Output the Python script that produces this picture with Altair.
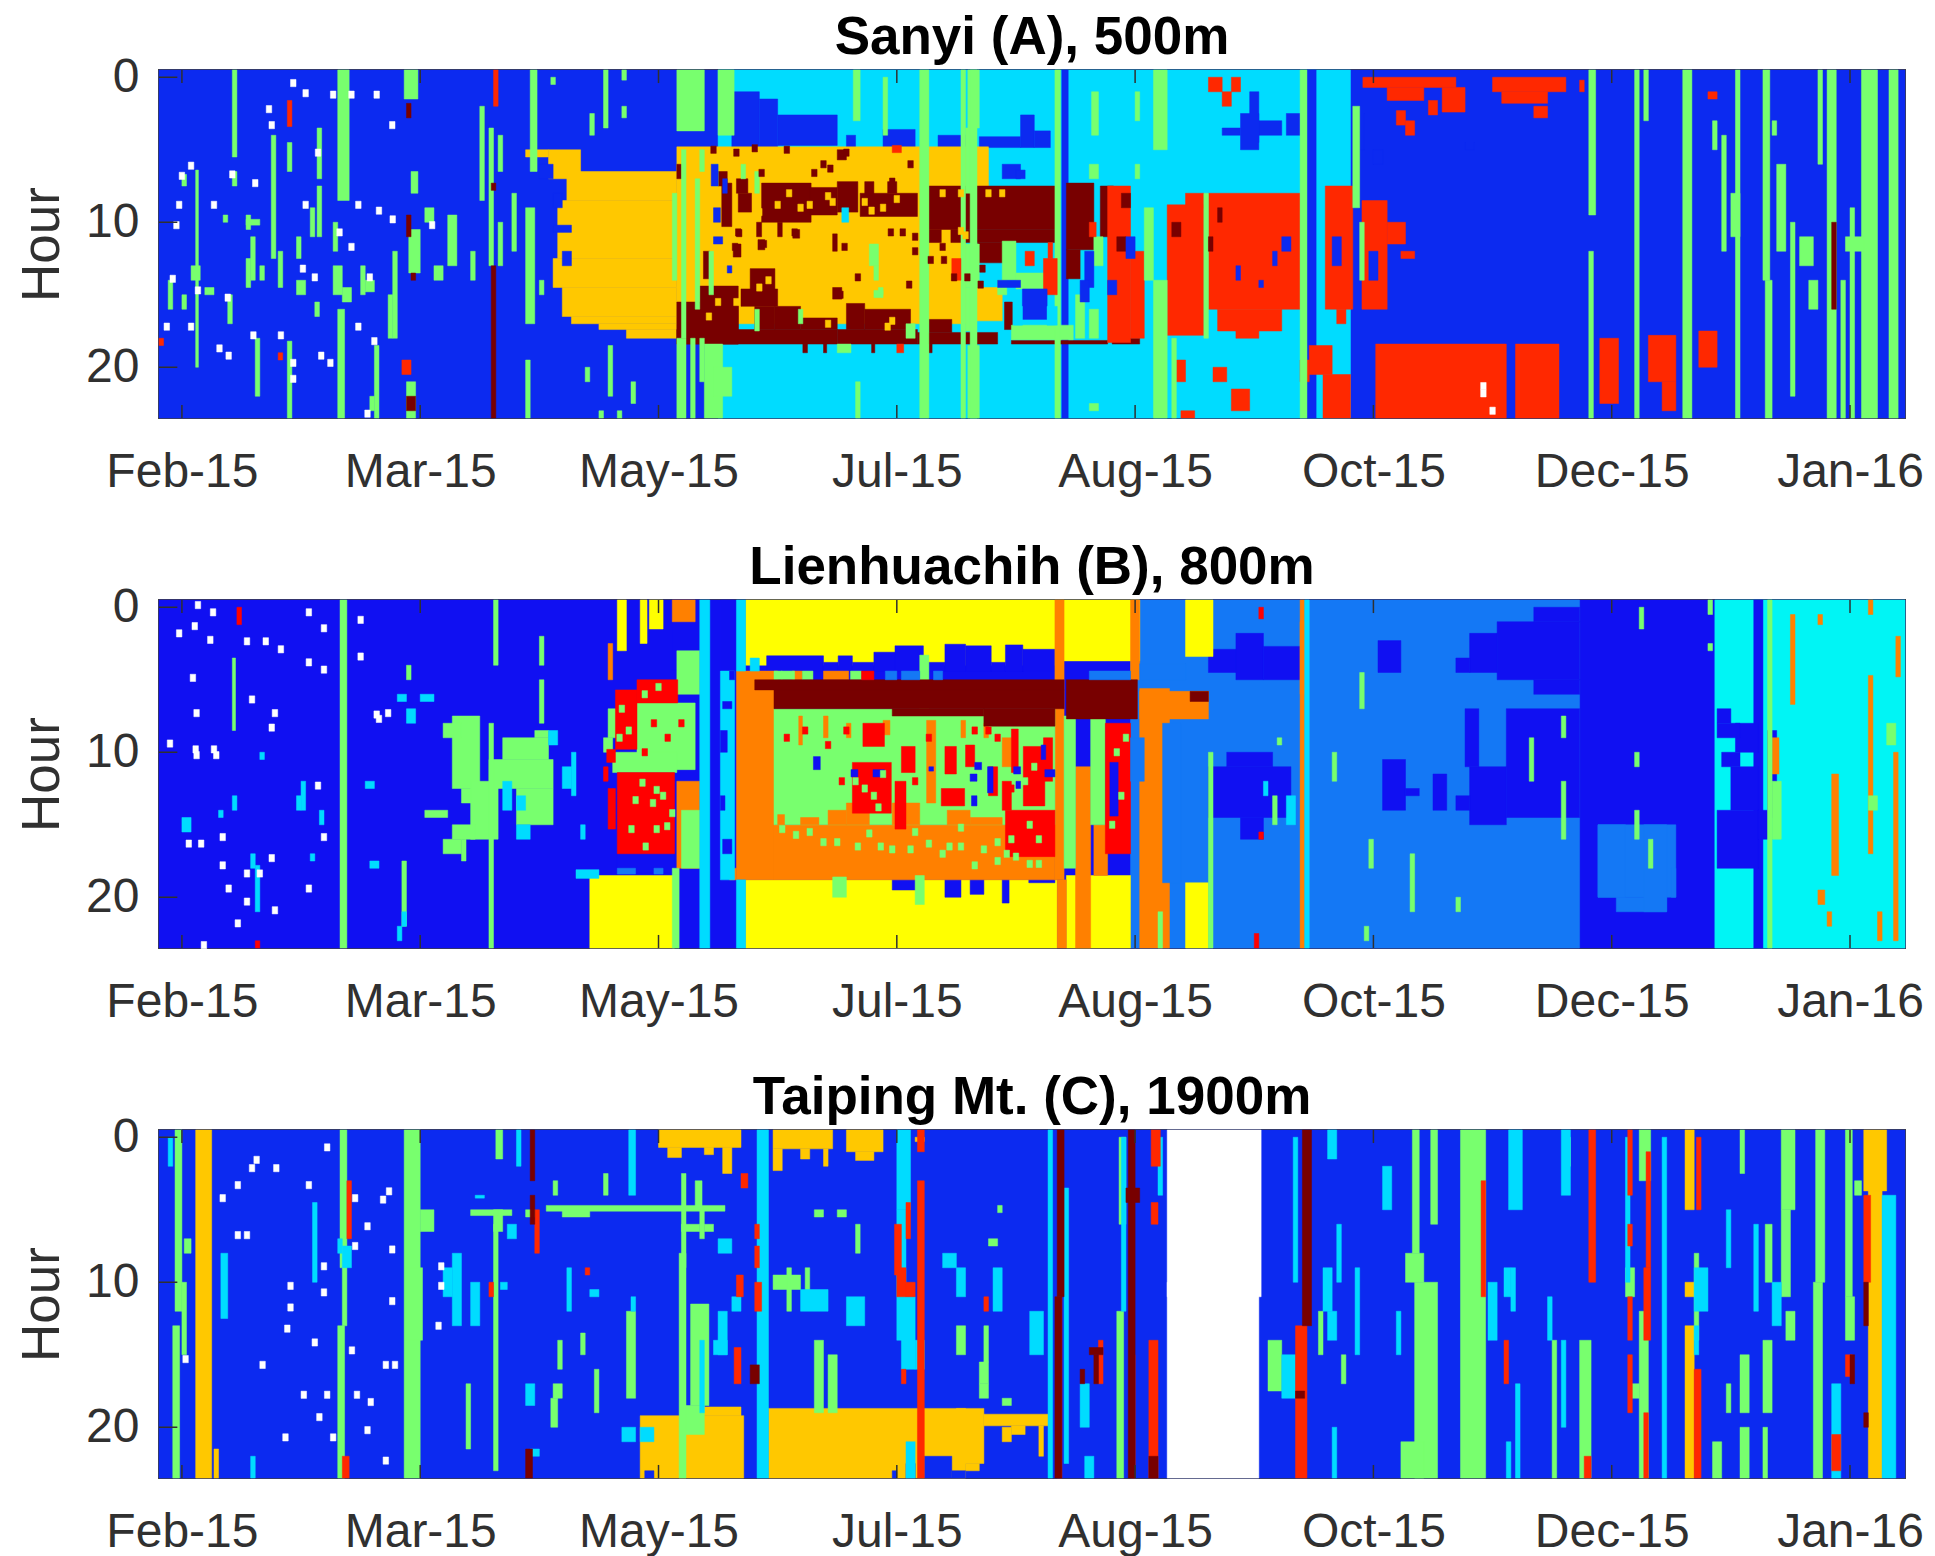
import altair as alt
import pandas as pd

TICK_DAYS = [5, 57, 109, 161, 213, 265, 317, 369]
TICK_LABELS = ["Feb-15", "Mar-15", "May-15", "Jul-15", "Aug-15", "Oct-15", "Dec-15", "Jan-16"]
HOUR_TICKS = [0, 10, 20]
DAYS = 381
CATS = ["blue", "indigo", "azure", "cyan", "aqua", "green", "yellow", "gold", "orange", "red", "scarlet", "maroon", "white"]
COLORS = ["#0c2af0", "#1010f2", "#1478f5", "#00dcff", "#00f5f5", "#78ff6e", "#ffff00", "#ffc800", "#ff8000", "#ff2800", "#ff0000", "#780000", "#ffffff"]

# ---------- Panel A: rectangles (day start, day end, hour start, hour end)
A_base = [(0, 381, -.5, 23.5)]
A_cyan = [(122, 260, -.5, 23.5)]
A_blue = [(125, 131, 1, 5), (131, 135, 1.5, 5), (135, 148, 2.6, 4.7), (150, 152, 4, 5), (158, 165, 3.6, 5),
          (170, 176, 4, 5), (179, 188, 4.1, 4.85), (188, 191, 2.6, 4.85), (191, 194.5, 3.7, 4.85),
          (197, 198.4, -.5, 23.5), (250.5, 252.5, -.5, 23.5), (232, 236, 3.5, 4), (238, 240, 1, 4.5), (240, 245, 3, 4),
          (261, 263, 2.5, 5), (246, 249, 2.5, 4), (236, 240, 2.5, 5)]
A_gold = [(80, 85, 5, 5.5), (85, 92, 5, 7), (89, 113, 6.5, 8.5), (87, 113, 8.5, 12.5), (86, 113, 12.5, 14.5),
          (88, 113, 14.5, 16.5), (90, 113, 16.5, 17), (96, 113, 17, 17.4), (102, 113, 17.4, 18),
          (113, 181, 4.8, 7.5), (113, 176, 7.5, 17), (178, 184, 14.5, 16.8)]
A_maroon = [(131.5, 142.3, 7.3, 10), (142, 148, 7.6, 9.5), (148, 152.5, 7.2, 9.3), (153, 165.5, 8, 9.6), (154, 156, 7.2, 8.1), (159, 161, 7.2, 8),
            (168, 195.6, 7.5, 10.5), (168, 170.7, 10.5, 11.4), (172.8, 195.6, 10.5, 11.4), (178.6, 186, 11.4, 12.8), (198, 204, 7.3, 11.9), (198, 201, 11.9, 13.9),
            (205.4, 208.3, 7.5, 11), (122.8, 125, 7.3, 10.3), (126.4, 129.3, 8, 9.3), (126, 127.2, 10.5, 11), (130.4, 131.5, 10, 11), (135, 136, 10, 11), (138.3, 139.8, 10.5, 11.1),
            (125.3, 127, 11.5, 12.4), (130.7, 132.2, 11.2, 11.9), (118.8, 120.2, 12, 13.9), (113, 148, 17.4, 18.4), (113, 126.4, 15.5, 18.4), (118, 126.4, 14.4, 18.4),
            (129, 134.4, 13.2, 15.3), (127, 135, 14.6, 15.8), (130, 134.4, 15.8, 17.4), (134.4, 140, 15.8, 17.4), (140, 148, 16.6, 17.4), (147, 149, 14.5, 15.3), (148, 165.5, 17.4, 18.4),
            (150, 154, 15.6, 17.4), (154, 164, 16, 17.4), (165.5, 183, 17.6, 18.4), (168, 173, 16.7, 17.6), (186, 207, 18.15, 18.4), (208, 214, 18, 18.4), (184.5, 186.2, 15.5, 17.4),
            (140.5, 141.5, 18.4, 19), (145, 145.7, 18.4, 19), (155.5, 156.2, 18.4, 19), (168, 168.7, 18.4, 19), (113, 114, 6, 7), (122, 124, 6.5, 7.5), (126, 128.5, 7, 8),
            (148, 150, 5, 5.7), (147, 148, 10.8, 12)]
A_maroonspeck = [(126.4, 10.7), (138.7, 10.7), (149.6, 11.7), (152.5, 13.8), (163.7, 14.3), (159.7, 10.7), (162.3, 10.7), (132, 11.5), (125.7, 11.7), (148.7, 15),
                 (173.5, 13.8), (176.4, 13.8), (179.7, 13.2), (179.3, 14.3), (171, 11.7), (168.4, 12.6), (171.3, 12.6), (160, 7.2), (131.5, 6.6), (145, 6), (146.5, 6.3), (143, 6.6),
                 (121, 5), (126, 5.2), (130, 4.9), (137, 5), (150, 5.2), (164, 6), (165, 12), (165, 11)]
A_goldspeck = [(131, 9.3), (137.5, 8), (140, 9), (146, 8.2), (147, 8.6), (154, 8.6), (155.5, 9.2), (158, 9), (161, 8.4), (171, 8), (175, 8), (181, 8), (184, 8), (175, 10.6), (176, 10.9), (122, 15.5),
               (120, 16.5), (126, 15.5), (131, 14.5), (133, 14), (146, 17), (160, 16.8), (159, 17.2), (142, 8.8), (135, 8.8)]
A_red = [(229, 249, 8, 16), (231, 245, 16, 17.5), (235, 240, 17.5, 18), (220, 228, 8.8, 17.8), (224, 228, 8, 9),
         (207, 212, 7.5, 18.3), (212, 215, 12, 18), (254.5, 260.5, 7.5, 16), (257, 259, 16, 17), (262.5, 268, 8.5, 16), (268, 272, 10, 11.5),
         (271, 274, 12, 12.5), (251, 256, 18.5, 20.5), (254, 260, 20.5, 23.5), (265.5, 294, 18.4, 23.5), (296, 305.5, 18.4, 23.5),
         (314.4, 318.5, 18, 22.5), (325, 331, 17.8, 21), (336, 340, 17.5, 20), (328, 331, 21, 23), (262.7, 283, 0, .7),
         (268, 276, .7, 1.6), (280, 285, .7, 2.4), (291, 307, 0, 1), (293, 303, 1, 1.8), (229, 232, 0, 1), (234, 236, 0, 1),
         (232, 234, 1, 2), (222, 224, 19.5, 21), (230, 233, 20, 21), (234, 238, 21.5, 23), (223, 226, 23, 23.5), (249, 251, 19.5, 21)]
A_redspeck = [(300, 303, 2, 2.8), (270, 272, 2.3, 3.3), (277, 279, 1.6, 2.6), (272, 274, 3, 4), (310, 311, .2, 1), (338, 340, 1, 1.5),
              (28, 29, 1.6, 3.4), (73, 74, -.5, 2), (0, 1, 18, 18.5), (26, 27, 19, 19.5), (53, 55, 19.5, 20.5), (160, 162, 4.7, 5.2), (173, 175, 12.5, 14),
              (161, 162.5, 18.4, 19), (189, 191, 12, 13), (193, 196, 12.5, 15), (194, 195, 11.4, 12.5), (203, 204.5, 10, 11)]
A_maroonline = [(72.5, 73.5, 13, 23.5), (54, 55, 1.8, 2.8), (54, 55, 9.5, 11), (55, 56, 13.5, 14), (54, 56, 22, 23), (72.5, 73.5, 7.3, 7.8), (365, 366, 10, 16),
                (231, 232, 9, 10), (229, 230, 11, 12), (221, 223, 10, 11), (210, 212, 8, 9), (209, 211, 11, 12)]
A_holeblue = [(188.4, 193.8, 14.6, 16.7), (285, 287, 4.5, 5), (235, 236, 13, 14), (243, 244, 12, 13), (240, 241, 14, 14.5),
              (256, 258, 11, 13), (264, 266, 12, 14), (245, 247, 11, 12), (265, 267, 5, 6), (86, 90, 10.2, 10.7), (88, 90, 12, 13), (83, 86, 6, 7),
              (86, 88, 8, 9), (123, 124, 7, 8), (124, 125, 13, 13.5), (184, 188, 6, 7), (187, 189, 6.4, 7), (202, 204, 12, 14.5), (201, 203, 14, 15.5), (207, 209, 14, 15),
              (183, 188, 14, 14.5), (211, 213, 11, 12.5), (120.5, 122, 6, 7.5), (121, 122.5, 9, 10), (121, 123, 11, 11.5)]
A_cyanhole = [(186.5, 188.4, 15.8, 17.1), (193.8, 196, 15.8, 17.1), (149, 150.5, 9, 10)]
A_green = [(8, 8.6, 6.4, 20), (16, 17, -.5, 5.5), (16, 17, 6.5, 7.5), (24.5, 25.5, 4, 12.5), (28, 29, 18.2, 23.5), (28, 29, 4.5, 6.5),
           (34.5, 35.5, 3.5, 7), (34.5, 35.5, 7.5, 11), (39, 41.5, -.5, 8.5), (39, 40.5, 16, 23.5), (47, 48, 18.5, 23.5), (53.5, 56.5, -.5, 1.5),
           (55, 56.5, 6.5, 8), (54.5, 57, 10.5, 13.5), (54, 56, 21, 23.5), (63, 65, 9.5, 13), (70, 71, 2, 8.5), (72, 73, 3.5, 13), (74, 75, 4, 6.5),
           (77, 78, 8, 12), (80, 82, 9, 17), (80, 81, 19.5, 23.5), (81, 82.5, -.5, 6.5), (85.5, 86.5, 0, .5), (94, 95, 2.5, 4), (97, 98, -.5, 3.5),
           (98, 99, 18.5, 22), (101, 102, -.5, .2), (101, 102, 2, 2.8), (103, 104, 21, 22.5), (14, 15, 9.5, 10), (19, 20, 9.5, 10.5), (19, 22, 9.8, 10.2),
           (20, 21, 11, 14), (7, 9, 13, 14), (10, 12, 14.5, 15), (38, 40, 13, 15), (40, 42, 14.5, 15.5), (45, 47, 14, 14.8), (44, 45, 13, 15),
           (19, 20, 12.5, 14.5), (22, 23, 13, 14), (26, 27, 12, 14.5), (30, 31, 11, 12.5), (5, 6, 6.7, 7.5), (2, 3, 14, 16), (5, 6, 15, 16),
           (15, 16, 15, 17), (21, 22, 18, 22), (33, 34, 9, 11), (51, 52, 12, 18), (50, 51, 15, 18), (46, 47, 22, 23), (34, 35, 15.5, 16.5),
           (58, 60, 9, 10), (68, 69, 12, 14), (74, 75, 10, 13), (83, 84, 14, 15), (93, 94, 20, 21), (96, 97, 23, 23.5), (100, 101, 23, 23.5),
           (60, 62, 13, 14), (38, 39, 10, 12), (30, 32, 14, 15),
           (113, 119, -.5, 3.7), (122, 125.5, -.5, 4), (113, 115, 18, 23.5), (116, 117, 18, 23.5), (118, 119, 18, 21), (119, 123, 18.4, 23.5),
           (121, 125, 20, 22), (114, 115, 5, 18), (117, 118, 7, 16), (118, 119, 5, 6.5), (120, 121, 12, 15), (121, 122, 6, 7.5), (112, 113, 8, 14),
           (151.5, 153, -.5, 3), (152, 153, 21, 23.5), (158, 159, 0, 4), (166, 168, -.5, 23.5), (155, 157, 11.5, 13), (156, 157, 13, 14), (157, 158, 14.5, 15), (156, 158, 14.7, 15.2),
           (148, 151, 18.4, 19), (139.5, 140.5, 16, 17), (130, 131, 16, 17.5), (163, 165, 17, 18), (127, 128, 6, 7), (130, 131, 6.5, 8),
           (176.5, 179, -.5, 3.5), (176, 178, 3.5, 8), (176.5, 179, 18.5, 23.5), (176, 179, 11.5, 14.5), (176, 178, 14.5, 17.5), (184, 187, 11.3, 14), (187, 195, 13.5, 14.6),
           (183, 185, 14, 15), (186, 199.5, 17.1, 18.1), (177, 178.5, -.5, 23.5), (175, 176, -.5, 23.5), (195.5, 196.7, -.5, 23.5),
           (203.5, 205, 1, 4), (203, 205, 6, 7), (204, 206, 11, 13), (213, 214, 1, 3), (217, 220, -.5, 5), (217, 220, 14, 23.5), (221, 222, 18, 23.5), (228, 229, 8, 18),
           (249, 250.5, -.5, 23.5), (260.5, 262, 2, 9), (215, 217, 9, 14), (262, 263, 10, 14), (203, 205, 22.5, 23), (213, 214, 6, 7), (200, 202, 15, 18), (203, 205, 16, 18),
           (312, 313.5, -.5, 9.5), (312, 313, 12, 23.5), (322, 323, -.5, 23.5), (324, 325, -.5, 3), (332.5, 334.5, -.5, 23.5), (344, 345, -.5, 23.5),
           (350, 351.5, -.5, 14), (350.5, 352, 14, 23.5), (352, 353, 3, 4), (356, 357, 10, 22), (362, 363, -.5, 6), (364, 366, -.5, 23.5), (369, 370, 9, 23.5),
           (371.5, 375, -.5, 23.5), (377.5, 379.5, -.5, 23.5), (367, 368, 14, 23.5), (339, 340, 3, 5), (341, 342, 4, 12), (343, 345, 8, 11), (353, 355, 6, 12),
           (358, 361, 11, 13), (360, 362, 14, 16), (368, 372, 11, 12)]
A_white = [(29.3, .4), (32, 1.1), (38, 1.2), (42, 1.2), (47.5, 1.2), (24, 2.2), (24.6, 3.3), (50.9, 3.3), (34.7, 5.2), (7, 6.1), (5, 6.8), (16, 6.7), (21, 7.3),
           (12, 8.8), (4.4, 8.8), (43.5, 8.8), (32, 8.8), (48, 9.2), (51, 9.8), (59.6, 10.2), (3.8, 10.2), (39.4, 10.7), (42, 11.7), (31.4, 13.2), (34, 13.8), (46, 13.8),
           (3, 13.9), (8.5, 14.7), (15, 15.2), (1.7, 17.2), (7, 17.2), (43.5, 17.2), (20.6, 17.8), (26.6, 17.8), (47, 18.2), (13.2, 18.7), (15.2, 19.2), (35.4, 19.2),
           (37.4, 19.7), (29.3, 19.7), (29.3, 20.8), (45.5, 23.2), (289, 21.3), (289, 21.8), (291, 23)]

# ---------- Panel B
B_base = [(0, 381, -.5, 23.5)]
B_azure = [(212, 310, -.5, 23.5), (314, 331, 15, 20), (318, 329, 20, 21)]
B_aqua = [(339.5, 381, -.5, 23.5)]
B_indigo = [(229, 235, 2.9, 4.5), (235, 241, 1.8, 5), (241, 250, 2.7, 5), (229, 247, 11, 14.5), (233, 243, 10, 11), (236, 241, 14.5, 16), (292, 310, 1, 5),
            (300, 310, 0, 1), (286, 292, 1.8, 4.5), (283, 286, 3.5, 4.5), (266, 271, 2.3, 4.5), (294, 310, 7, 14.5), (300, 310, 5, 6), (286, 294, 11, 15),
            (283, 286, 13, 14), (267, 272, 10.5, 14), (285, 288, 7, 11), (272, 275, 12.5, 13), (278, 281, 11.5, 14),
            (348, 350, -.5, 23.5), (340, 343, 7, 8), (344, 349, 8, 10), (341, 345, 10, 11), (343, 349, 11, 14), (340, 349, 14, 18), (340, 345, 8, 9),
            (351, 353, 8.5, 14.5), (349, 352, 14, 16)]
B_azureholes = [(314, 320, 15, 20), (324, 329, 15, 21), (330, 331, 18, 20)]
B_yellow = [(128, 196, -.5, 4), (100, 102, -.5, 3), (105, 106.5, -.5, 2.5), (107, 110, -.5, 1.5), (94, 112.5, 18.5, 23.5), (128, 196, 18.8, 23.5),
            (196, 214, -.5, 3.7), (224, 230, -.5, 3.4), (224, 229, 19, 23.5), (198, 212, 18.5, 23.5)]
B_blue_top = [(132.6, 145, 3.35, 4.4), (145, 148.2, 3.8, 4.4), (148.2, 151.3, 3.35, 4.4), (151.3, 156, 3.8, 4.4), (156, 160.6, 3.1, 4.4), (160.6, 166.8, 2.66, 4.4), (166.8, 171.5, 3.8, 4.4),
              (171.5, 176, 2.55, 4.4), (176, 181.6, 2.66, 4.4), (181.6, 184.7, 3.8, 4.4), (184.7, 188.5, 2.6, 4.4), (188.5, 195.5, 2.9, 4.4),
              (160, 165.5, 18.6, 19.5), (171.5, 175, 18.6, 20), (177, 180, 18.6, 19.8), (184, 185.5, 18.6, 20.4), (189.8, 195.5, 18.6, 19),
              (100, 112.5, 17, 18.3), (112, 118, -.5, 4.3), (122.5, 125.6, -.5, 4.4)]
B_orange = [(126, 134.2, 4.4, 18.8), (134.2, 195.5, 15, 18.8), (195.5, 197.5, -.5, 18.8), (196, 198, 18.8, 23.5), (200, 203.3, 11, 23.5), (204, 207, 15, 18.5), (214, 220.5, 5.6, 23.5), (214, 229, 5.8, 7.7),
            (218, 222, 12, 18), (249, 250, -.5, 23.5), (249, 250.5, 1, 6), (212, 214, -.5, 5), (98, 99, 2.5, 5), (112, 117, -.5, 1),
            (113, 118, 12, 18), (218, 222, 10, 11), (134.2, 135, 4.4, 5), (138.2, 140.4, 4.4, 5), (145, 150.5, 4.4, 5), (124.5, 126, 18, 18.8),
            (356, 357, .5, 6.7), (362, 363, .5, 1.2), (365, 366.5, 11.5, 18.5), (362, 363.5, 19.5, 20.5), (364, 365, 21, 22), (373, 374, -.5, .5), (373, 374, 4.7, 17),
            (379, 380, 2, 4.8), (378.5, 379.5, 10, 23), (352, 353.5, 9, 11.5), (375, 376, 21, 23)]
B_green = [(134.2, 195.5, 7, 15), (197.5, 200, 7.5, 18), (203.3, 206.5, 7.5, 15), (104.3, 117, 6.6, 11.2), (99, 113, 10, 11.4), (113, 118, 3, 6),
           (134.2, 136, 4.4, 5), (135.8, 138.7, 4.4, 5), (140.4, 142.7, 4.4, 5), (150.9, 153.3, 4.4, 5), (166, 168, 3.3, 7), (165, 167, 18.5, 20.5),
           (147, 150, 18.6, 20), (98, 100, 7, 9), (97, 99, 9, 10), (114, 118, 14, 18), (112, 113.5, 18, 23.5),
           (64, 70, 7.5, 12.5), (66, 71, 12.5, 13.5), (68, 74, 12, 16), (62, 66, 8, 9), (75, 85, 9, 10.5), (72, 86, 10.5, 12.5), (78, 86, 12.5, 15),
           (62, 66, 16, 17), (64, 69, 15, 16), (66, 67, 16, 17.5), (58, 63, 14, 14.5), (82, 85, 8.5, 9), (39.5, 41, -.5, 23.5), (73, 74, -.5, 4), (72, 73, 8, 23.5),
           (53, 54, 17.5, 22), (83, 84, 2, 4), (83, 84, 5, 8), (54, 55, 4, 5), (16, 16.7, 3.5, 8.5), (229, 230, 10, 23.5), (218, 219, 21, 23.5),
           (244, 245, 9, 9.5), (243, 244, 13, 15), (262, 263, 4.5, 7), (256, 257, 10, 12), (299, 300, 9, 12), (306, 307, 7.5, 9), (306, 307, 12, 16), (323, 324, 0, 1.5),
           (322, 323, 10, 11), (322, 323, 14, 16), (325, 326, 16, 18), (338, 339, 2.5, 3), (338, 339, -.5, .5), (264, 265, 16, 18), (273, 274, 17, 21), (283, 284, 20, 21),
           (263, 264, 22, 23), (352, 354, 12, 16), (351, 352, -.5, 23.5), (377, 379, 8, 9.5), (373, 375, 13, 14)]
B_orange_in_green = [(139.6, 140.4, 7.5, 9.5), (145, 146, 7.5, 9), (150, 151, 8, 9), (167.5, 169.5, 7.8, 13.5), (175, 176, 7.8, 9), (158, 159.5, 7.8, 8.8),
                     (150, 155, 13.5, 15), (146, 150, 14, 15), (160, 166, 13.5, 15), (172, 177, 14, 15), (177, 184, 14.5, 15), (140, 144, 14.5, 15), (135, 136.5, 14.3, 15), (180, 181, 8, 9),
                     (184, 186, 9, 11)]
B_green_in_orange = [(157.5, 16.5), (160, 16.7), (164, 16.7), (165, 15.5), (172.5, 16.5), (175, 16.5), (175, 15.2), (180, 16.7), (183, 16.2), (185, 17), (187, 17.2), (145, 16.2), (148, 16.2), (152.5, 16.5),
                     (136, 15.3), (139, 15.7), (142, 15.5), (155, 15.6), (190, 17.7), (192, 17.7), (178, 17.8), (183, 17.5), (168, 16.3), (171, 17)]
B_maroon = [(130, 197.5, 5, 5.7), (134.2, 197.5, 5.7, 7), (160, 180, 7, 7.5), (180, 195.5, 7, 8.2), (198, 213.5, 5, 7.7), (225, 229, 5.8, 6.5)]
B_red = [(99.6, 104.3, 5.7, 9.8), (104.3, 113.2, 5, 6.6), (97.7, 99.6, 9.8, 10.7), (100, 112.5, 11.4, 17), (98, 99.6, 12.5, 15.3),
         (184.7, 195.5, 14, 17.2), (188.6, 193.3, 9.6, 13.7), (151.3, 159.8, 10.7, 14.2), (170.7, 175.8, 12.5, 13.7), (153.6, 158.3, 8, 9.6), (162, 165, 9.6, 11.4), (171.5, 174, 9.6, 11.5),
         (160.6, 163, 12, 15.3), (186, 187.5, 8.4, 11.4), (193, 195, 9, 12), (206.5, 212, 8, 17), (240, 241, 15.5, 16), (240, 241, 0, .8), (239, 240, 22.5, 23.5),
         (17, 18, 0, 1.2), (21, 22, 23, 23.5), (97, 98, 11, 12), (153.3, 156, 4.4, 5), (176, 178, 9.5, 11), (181, 183, 11, 13), (184, 186, 12, 14)]
B_red_in_green = [(137, 9), (141, 8.5), (146, 9.5), (149, 12), (165, 12), (168, 9), (178, 8.5), (183, 9), (186, 12.5), (181, 8.5), (150, 8.5), (108, 8), (111, 9), (106, 10), (114, 8)]
B_green_in_red = [(105.5, 12.1), (108.6, 12.6), (107.8, 13.5), (110, 13), (104, 13.3), (103.1, 15.3), (108.6, 15.3), (110.9, 15.1), (106.2, 16.5), (112, 14.2), (101, 7), (102.5, 8.5), (100.5, 9), (106, 6),
                  (109, 5.5), (154, 12.5), (156, 13), (158, 11.5), (157, 13.8), (152, 12), (190, 15), (192, 16), (186, 16), (189, 12), (191, 11), (209, 10), (210, 13), (208, 15), (211, 9)]
B_holesblue = [(142.8, 144.3, 10.3, 11.2), (151, 152.5, 11.2, 11.7), (155.8, 158.3, 11.2, 11.7), (177.3, 178.5, 13, 13.7), (180.8, 182, 11, 12.8), (193.3, 195.5, 11.2, 11.7), (192.5, 193.5, 9.5, 10.5),
               (207.5, 209.3, 10.7, 14.4), (178, 179.5, 10.7, 11.2), (177, 178.5, 11.5, 12), (168, 169, 11, 11.3), (186.5, 188, 11, 11.5), (187, 188, 12, 12.5)]
B_cyan = [(126, 128, -.5, 4.4), (118, 120.2, -.5, 23.5), (122.5, 125.6, 4.4, 18.8), (126, 128, 18.8, 23.5), (129, 131, 3.5, 4.4), (246, 248, 13, 15), (241, 242, 12, 13), (250, 251, -.5, 23.5)]
B_blue_in_cyan = [(123, 125, 6.5, 7), (122.5, 124, 8.5, 10), (122.5, 123.5, 13, 14), (123, 125, 16, 17), (124.5, 125.6, 4.4, 5)]
B_azure_small = [(158.5, 161, 4.4, 5), (162, 166, 4.4, 5), (169, 171, 4.4, 5), (100, 104, 18, 18.4), (108, 110, 18, 18.4), (214, 224, 3.9, 5), (203, 212, 4.4, 5), (212, 215, 9, 12),
                 (219, 223, 8, 19)]
B_cyanspeck = [(16, 17, 13, 14), (30, 31, 13, 14), (5, 7, 14.5, 15.5), (13, 14, 14, 14.5), (35, 36, 14, 15), (46, 48, 17.5, 18), (53, 54, 21, 22), (52, 53, 22, 23), (54, 56, 7, 8),
               (52, 54, 6, 6.5), (57, 60, 6, 6.5), (45, 47, 12, 12.5), (33, 34, 17, 17.5), (31, 32, 12, 14), (20, 21, 17, 18), (21, 22, 17.8, 21), (78, 80, 13, 14), (78, 81, 15, 16),
               (85, 87, 8.5, 9.5), (88, 90, 11, 12.5), (92, 93, 15, 16), (90, 91, 10, 13), (75, 77, 12, 14), (22, 23, 10, 10.5), (91, 96, 18.1, 18.7)]
B_white = [(8.5, -.15), (11.8, .35), (32.7, .35), (7.8, 1.3), (4.4, 1.8), (11.2, 2.25), (19.2, 2.35), (23.3, 2.35), (36, 1.45), (44, .87), (26.6, 2.9), (32.7, 3.8), (36, 4.3), (7.4, 4.87),
           (20.3, 6.36), (8.2, 7.3), (25.3, 7.3), (47.5, 7.4), (50, 7.3), (24.6, 8.3), (2.4, 9.4), (8.2, 10.2), (12.5, 10.2), (34.7, 12.3), (6.5, 16.3), (9.2, 16.3), (13.9, 15.85),
           (36, 15.85), (24.6, 17.3), (13.9, 17.8), (19.2, 18.36), (22, 18.36), (15.2, 19.4), (32.7, 19.4), (19.2, 20.3), (25.3, 20.9), (17.2, 21.8), (9.8, 23.3), (48, 7.7), (44, 3.4),
           (8, 9.8), (12, 9.8)]

# ---------- Panel C
C_base = [(0, 381, -.5, 23.5)]
C_gold = [(8, 11.5, -.5, 23.5), (12, 13, 21.5, 23.5), (109, 127, -.5, .7), (111, 114, .7, 1.4), (119, 121, .7, 1.2), (123, 125, .7, 2.5), (134, 147, -.5, .8), (134, 136, .8, 2.3),
          (140, 142, .8, 1.5), (145, 146, .8, 2), (150, 158, -.5, 1), (152, 156, 1, 1.6), (105, 127.6, 19.2, 23.5), (114, 127, 18.6, 19.2), (133, 176, 18.7, 23.5), (174, 180, 18.7, 22.5),
          (176, 179, 22.5, 23), (180, 194, 19.1, 19.9), (186, 189, 19.9, 20.5), (192, 193, 19.9, 22), (184, 186, 20, 21), (333, 335, -.5, 5), (333, 335, 10, 11), (333, 335, 13, 23.5),
          (372, 377, -.5, 3.7), (373, 376, 3.7, 23.5), (165, 167, .0, .3)]
C_blue_over = [(167, 173, 22, 23.5), (163, 165, 22.5, 23.5), (160, 161, 23, 23.5), (173, 176, 23, 23.5), (106, 108, 23, 23.5)]
C_green = [(3.5, 5, -.5, 12), (3, 4.5, 13, 23.5), (5, 6, 10, 15), (5.5, 7, 7, 8), (39.5, 41, -.5, 9), (39, 40.5, 13, 23.5), (40, 41, 9, 13), (53.5, 57, -.5, 23.5), (54, 57.5, 9, 14),
           (73, 74, 6, 23), (73, 75, 5, 6.5), (73.5, 75, -.5, 1.5), (85.5, 87, 18, 20), (86, 87, 3, 4), (113.5, 115, 8, 23.5), (114, 115, 2.5, 9), (102, 104, 12, 18), (97, 98, 2.5, 4),
           (117, 118.5, 3, 5), (116, 120, 11.5, 18.5), (115, 119, 18.5, 20.5), (84.5, 123.5, 4.7, 5.1), (88, 94, 5, 5.5), (57, 60, 5, 6.5), (68, 74, 5, 5.4), (74, 77, 5, 5.4),
           (80, 82, 5, 5.5), (114, 118, 6, 6.5), (119, 121, 6, 6.5), (118, 119, 5, 7), (67, 68, 17, 21.5), (86, 88, 17, 18), (95, 96, 16, 19), (92, 93, 13.5, 15), (87, 88, 14, 16),
           (143, 145, 14, 19), (146, 148, 15, 19), (134, 140, 9.5, 10.5), (137, 138, 9, 12), (141, 142, 9, 11), (152, 153, 6, 8), (174, 176, 13, 15), (180, 181, 13, 15.5), (179, 181, 15.5, 17),
           (148, 150, 5, 5.5), (143, 145, 5, 5.5), (181, 183, 7, 7.5), (183, 184, 4.7, 5.2), (184, 186, 18, 18.5), (179, 181, 17, 18),
           (209.5, 211, 0, 6), (209, 210.5, 12, 23.5), (242, 245, 14, 17.5), (273.5, 275, -.5, 8), (277.5, 279, -.5, 6), (272, 276, 8, 10), (274, 279, 10, 23.5), (271, 276, 21, 23.5),
           (284, 289.5, -.5, 23.5), (307, 308, 0, 2), (310, 312.5, 14, 23.5), (323, 325.5, -.5, 3), (323, 325, 12, 23.5), (335, 336, 8, 14), (345, 346, -.5, 2.5), (345, 347, 15, 19),
           (350.5, 352, 6, 10), (350, 352, 14, 19), (350, 351, 20, 23.5), (354, 357, -.5, 5), (354, 356, 5, 11), (355, 357, 12, 14), (361.5, 363.5, -.5, 10), (361, 363, 10, 23.5),
           (368, 369.5, -.5, 11), (320, 322, 9, 11), (253, 254, 12, 15), (258, 259, 15, 17), (345, 347, 20, 23.5), (321, 323, 17, 18), (304, 305, 14, 23.5), (370, 371.5, 3, 4),
           (368, 370, 11, 14), (342, 343, 17, 19), (339, 341, 21, 23.5)]
C_cyan = [(2, 3, 0, 2), (13.5, 15, 8, 12.5), (33.5, 34.5, 4.5, 10), (39, 40, 7, 8), (40, 42, 7.5, 9), (64, 66, 8, 13), (78, 79, -.5, 2), (102.5, 104, -.5, 4), (130.5, 133, -.5, 23.5),
          (74.5, 76, 10, 10.5), (89, 90, 9, 12), (94, 96, 10.5, 11), (161, 164, -.5, 5), (161, 163, 5, 14), (162, 165, 11, 16), (163, 165, 21, 23.5), (68, 70, 10, 13), (62, 64, 9, 11),
          (118, 119, 14, 19), (122, 124, 12, 15), (125, 127, 11, 12), (121, 124, 14, 15), (103, 104, 11, 12), (69, 71, 4, 4.2), (80, 82, 17, 18.5), (81, 83, 21.5, 22),
          (20, 21, 22, 23.5), (101, 104, 20, 21), (105, 108, 20, 21), (140, 146, 10.5, 12), (150, 154, 11, 13), (171, 174, 8, 9), (165, 167, 14, 16), (122, 125, 7, 8), (76, 78, 6, 7),
          (210, 211, 0, 12), (218, 219, 0, 4), (245, 248, 15, 18), (247.5, 248.5, 0, 10), (255, 257, -.5, 1.5), (254, 256, 9, 12), (255, 257, 12, 14), (261, 262, 9, 15), (256, 257, 20, 23.5),
          (194, 195, -.5, 23.5), (197.5, 198.5, 3.5, 22.5), (190, 193, 12, 15), (182, 184, 9, 12), (174, 176, 9, 11), (201, 203, 17, 20), (202, 204, 22, 23.5),
          (294.5, 297.5, -.5, 5), (295, 296, 9, 12), (296, 297, 17, 23.5), (294, 295, 21, 23.5), (293.5, 295, 9, 11), (306, 308, -.5, 4), (328, 329, 0, 23.5), (335, 338, 9, 12), (335, 336, 13, 15),
          (342, 343, 5, 9), (365, 367, 17, 23.5), (376, 379, 4, 23.5), (348, 349, 6, 12), (320, 321, 0, 10), (270, 271, 12, 15), (267, 269, 2, 5), (257, 258, 6, 10), (352, 354, 10, 13),
          (290, 292, 10, 14), (303, 304, 11, 14), (306, 307, 14, 20)]
C_red = [(41, 42, 3, 7), (40, 41.5, 22, 23.5), (82, 83, 5, 8), (127, 128.5, 2.5, 3.5), (126, 127.5, 9.5, 11), (125.5, 127, 14.5, 17), (130, 131, 6, 7), (130, 131, 7.5, 9), (130, 131.5, 10, 12),
         (160.5, 162, 6, 9.5), (163, 164, 4.5, 7), (165.5, 167, -.5, 1), (165.5, 167, 3, 23.5), (162, 163, 16, 17), (72, 73, 10, 11), (93, 94, 9, 9.5), (161, 163, 9, 11), (163, 165, 10, 11),
         (216.5, 218.5, -.5, 2), (216, 218, 14, 23.5), (216.5, 218, 4.5, 6), (248, 250.5, 13, 23.5), (288.5, 289.5, 3, 11), (293.5, 294.5, 14, 17), (312, 313.5, -.5, 10), (311, 312.5, 22, 23.5),
         (320.5, 321.5, -.5, 4), (320.5, 321.5, 6, 7.5), (320.5, 321.5, 11, 14), (320.5, 321.5, 15, 19), (324.5, 325.5, 1, 9), (324, 325.5, 9, 14), (324, 325, 19, 23.5), (335.5, 336.5, 0, 5),
         (335, 336.5, 16, 23.5), (365, 367, 20.5, 23), (368, 369.5, 15, 16.5), (372, 373.5, 4, 10), (196, 197, 11, 23.5), (212, 213, 15, 23.5), (180, 181, 11, 12), (205, 206, 14, 17)]
C_maroon = [(81, 82, -.5, 3), (81, 82, 4, 6), (129, 131, 15.7, 17), (80, 81.5, 21.5, 23.5), (196, 197.5, -.5, 11), (195.5, 197, 11, 23.5), (211.5, 213, -.5, 23.5), (249.5, 251.5, -.5, 13),
            (248, 250, 17.5, 18), (203, 206, 14.5, 15), (204, 205, 15, 17), (211, 214, 3.5, 4.5), (372, 373, 10, 13), (369, 370, 15, 17), (372, 373, 19, 20), (201, 202, 16, 17), (216, 218, 22, 23.5)]
C_white = [(36.7, .7), (21.3, 1.56), (20.3, 2.13), (25.6, 2.13), (17.2, 3.3), (32.7, 3.3), (50.2, 3.73), (42.8, 4.2), (48.9, 4.3), (13.9, 4.2), (17.2, 6.75), (19.2, 6.75), (45.5, 6.14), (42.8, 7.5),
           (50.9, 7.74), (36, 8.9), (61.6, 8.9), (61.6, 10.25), (28.7, 10.25), (36, 10.7), (50.9, 11.3), (28.7, 11.74), (28, 13.2), (61, 13), (34, 14.15), (42.1, 14.7), (22.6, 15.7), (49.5, 15.7),
           (51.5, 15.7), (31.6, 17.76), (36.7, 17.76), (43.2, 17.76), (46.2, 18.26), (35, 19.3), (45.5, 20.2), (27.6, 20.7), (38, 20.7), (49.5, 22.3), (5.8, 15.3)]
C_gap = [(220, 240.5, -.5, 11), (220, 240, 10, 23.5)]

A_layers = [("blue", A_base), ("cyan", A_cyan), ("blue", A_blue), ("gold", A_gold), ("maroon", A_maroon), ("red", A_red), ("green", A_green),
            ("red", A_redspeck), ("maroon", A_maroonline), ("blue", A_holeblue), ("cyan", A_cyanhole)]
A_cells = [("maroon", A_maroonspeck), ("gold", A_goldspeck), ("white", A_white)]
B_layers = [("indigo", B_base), ("azure", B_azure), ("aqua", B_aqua), ("indigo", B_indigo), ("azure", B_azureholes), ("yellow", B_yellow), ("indigo", B_blue_top),
            ("orange", B_orange), ("green", B_green), ("orange", B_orange_in_green), ("maroon", B_maroon), ("scarlet", B_red), ("indigo", B_holesblue), ("cyan", B_cyan),
            ("indigo", B_blue_in_cyan), ("azure", B_azure_small), ("cyan", B_cyanspeck)]
B_cells = [("green", B_green_in_orange), ("green", B_green_in_red), ("scarlet", B_red_in_green), ("white", B_white)]
C_layers = [("blue", C_base), ("gold", C_gold), ("blue", C_blue_over), ("green", C_green), ("cyan", C_cyan), ("red", C_red), ("maroon", C_maroon), ("white", C_gap)]
C_cells = [("white", C_white)]


def frame(layers, cells):
    rows = []
    for cat, spans in layers:
        for d0, d1, h0, h1 in spans:
            rows.append({"d0": d0, "d1": d1, "h0": h0, "h1": h1, "c": cat})
    for cat, points in cells:
        for d, h in points:
            rows.append({"d0": d - .6, "d1": d + .6, "h0": h - .25, "h1": h + .25, "c": cat})
    return pd.DataFrame(rows)


x_label_expr = "{}[indexof({}, datum.value)]".format(TICK_LABELS, TICK_DAYS)


def panel(title, df):
    x_scale = alt.Scale(domain=[0, DAYS], nice=False, zero=False)
    y_scale = alt.Scale(domain=[-.5, 23.5], reverse=True, nice=False, zero=False)
    color_scale = alt.Scale(domain=CATS, range=COLORS)
    rects = alt.Chart(df).mark_rect(strokeWidth=.5).encode(
        x=alt.X("d0:Q", scale=x_scale, axis=alt.Axis(
            values=TICK_DAYS, labelExpr=x_label_expr, title=None, grid=False, ticks=False, domain=False,
            labelFont="Liberation Sans", labelFontSize=48, labelColor="#303030", labelPadding=30, labelOverlap=False, labelFlush=False)),
        x2="d1:Q",
        y=alt.Y("h0:Q", scale=y_scale, axis=alt.Axis(
            values=HOUR_TICKS, title="Hour", grid=False, ticks=False, domain=False,
            labelFont="Liberation Sans", labelFontSize=48, labelColor="#303030", labelPadding=20, labelOverlap=False,
            titleFont="Liberation Sans", titleFontSize=53, titleFontWeight="normal", titleColor="#303030", titlePadding=16)),
        y2="h1:Q",
        color=alt.Color("c:N", scale=color_scale, legend=None),
        stroke=alt.Stroke("c:N", scale=color_scale, legend=None),
    )
    xt = pd.DataFrame({"d": TICK_DAYS * 2, "a": [-.5] * 8 + [22.6] * 8, "b": [.4] * 8 + [23.5] * 8})
    yt = pd.DataFrame({"h": HOUR_TICKS, "a": [0] * 3, "b": [4] * 3})
    xticks = alt.Chart(xt).mark_rule(color="#303030", strokeWidth=1.5).encode(x=alt.X("d:Q", scale=x_scale), y=alt.Y("a:Q", scale=y_scale), y2="b:Q")
    yticks = alt.Chart(yt).mark_rule(color="#303030", strokeWidth=1.5).encode(y=alt.Y("h:Q", scale=y_scale), x=alt.X("a:Q", scale=x_scale), x2="b:Q")
    return alt.layer(rects, xticks, yticks).properties(
        width=1746, height=348,
        title=alt.TitleParams(title, font="Liberation Sans", fontSize=53, fontWeight="bold", color="#000000", anchor="middle", offset=-12),
    )


chart = alt.vconcat(
    panel("Sanyi (A), 500m", frame(A_layers, A_cells)),
    panel("Lienhuachih (B), 800m", frame(B_layers, B_cells)),
    panel("Taiping Mt. (C), 1900m", frame(C_layers, C_cells)),
    spacing=44,
).configure_view(stroke="#404040", strokeWidth=2).properties(
    padding={"left": 7, "top": 3, "right": 0, "bottom": 0}, background="white")

chart.save("out.html", embed_options={"renderer": "svg", "actions": False})
